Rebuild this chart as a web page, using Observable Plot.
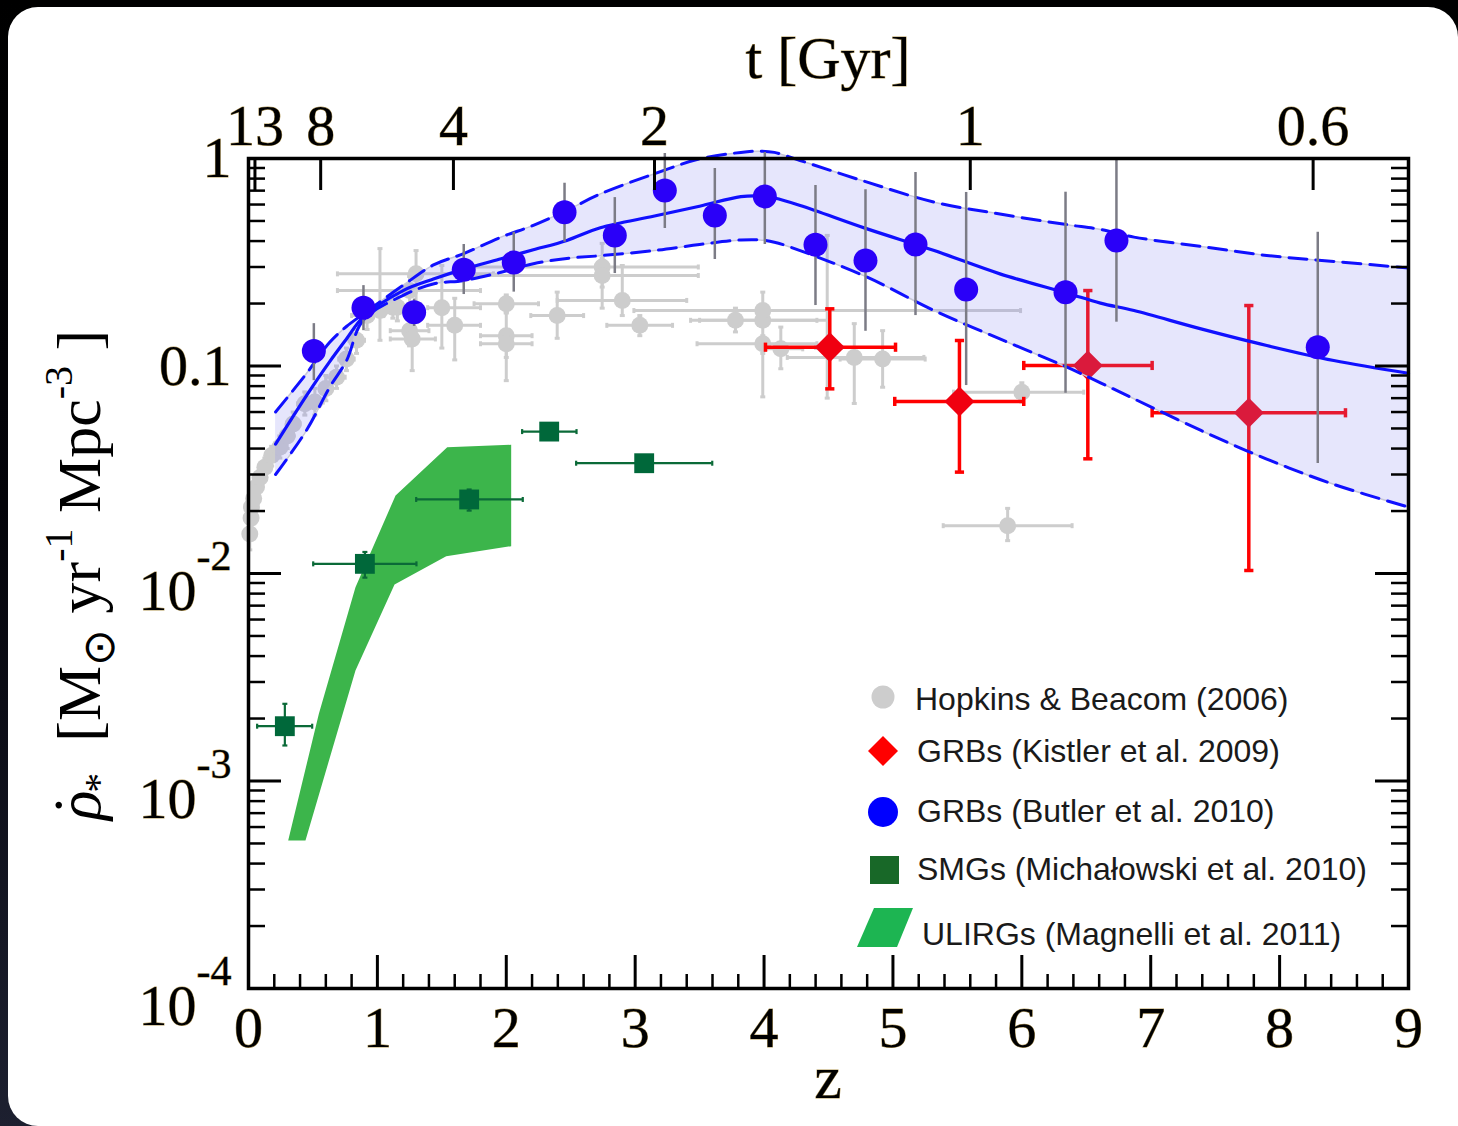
<!DOCTYPE html>
<html><head><meta charset="utf-8">
<script src="https://cdn.jsdelivr.net/npm/d3@7"></script>
<script src="https://cdn.jsdelivr.net/npm/@observablehq/plot@0.6"></script>
<style>
html,body{margin:0;padding:0;width:1458px;height:1126px;overflow:hidden;}
body{background:linear-gradient(to bottom,#000 0%,#04040a 45%,#1d2030 100%);position:relative;}
#card{position:absolute;left:8px;top:7px;width:1450px;height:1119px;background:#fff;border-radius:30px 30px 0 30px;}
#chart{position:absolute;left:0;top:0;}
</style></head>
<body><div id="card"></div><div id="chart"></div>
<script>
// ---------- data ----------
// Hopkins & Beacom (2006) compilation
const hbZ   = [0.01,0.02,0.023,0.04,0.062,0.09,0.127,0.18,0.243,0.30,0.347,0.437,0.515,0.60,0.683,0.76,0.838,0.92,1.02,1.12,1.155,1.25,1.25,1.27,1.30,1.50,1.60,2.0,2.0,2.0,2.395,2.744,2.744,2.90,3.036,3.778,3.99,3.99,3.99,4.13,4.49,4.70,4.92,6.0,5.89];
const hbV   = [0.0155,0.0185,0.0209,0.023,0.0261,0.029,0.0325,0.037,0.0406,0.046,0.0526,0.0657,0.067,0.078,0.0883,0.108,0.133,0.175,0.185,0.192,0.192,0.148,0.231,0.135,0.278,0.191,0.157,0.1995,0.14,0.128,0.175,0.30,0.273,0.207,0.157,0.166,0.166,0.185,0.128,0.121,0.123,0.110,0.108,0.0748,0.017];
const hbZlo = [0.0,0.01,0.01,0.02,0.04,0.07,0.10,0.15,0.20,0.25,0.30,0.38,0.45,0.55,0.60,0.70,0.78,0.80,0.90,1.0,1.05,1.10,0.69,1.10,0.69,1.39,1.39,1.75,1.80,1.80,2.19,1.72,1.75,2.395,2.78,3.43,3.50,2.99,3.48,4.0,4.40,4.18,4.59,5.47,5.39];
const hbZhi = [0.02,0.03,0.04,0.06,0.08,0.11,0.15,0.21,0.29,0.35,0.40,0.50,0.58,0.65,0.75,0.82,0.90,1.05,1.15,1.25,1.30,1.40,1.80,1.45,1.90,1.80,1.80,2.25,2.20,2.20,2.60,3.49,3.49,3.40,3.29,4.41,4.50,5.99,4.41,4.30,4.60,5.24,5.25,6.48,6.39];
const hbVlo = [0.013,0.016,0.018,0.020,0.023,0.026,0.029,0.033,0.036,0.040,0.046,0.058,0.058,0.068,0.078,0.095,0.115,0.15,0.133,0.17,0.165,0.125,0.20,0.095,0.19,0.122,0.107,0.18,0.085,0.11,0.136,0.24,0.19,0.175,0.14,0.146,0.071,0.175,0.115,0.097,0.07,0.066,0.079,0.067,0.0144];
const hbVhi = [0.018,0.021,0.024,0.026,0.029,0.032,0.036,0.041,0.046,0.052,0.060,0.075,0.078,0.09,0.10,0.122,0.15,0.20,0.368,0.22,0.225,0.175,0.27,0.18,0.36,0.305,0.212,0.22,0.182,0.15,0.227,0.39,0.33,0.305,0.175,0.19,0.227,0.195,0.14,0.154,0.426,0.16,0.148,0.083,0.0206];

// GRBs, Kistler et al. 2009
const kiZ   = [4.51,5.516,6.512,7.761];
const kiV   = [0.1232,0.0675,0.1006,0.0595];
const kiZlo = [4.011,5.014,6.015,7.011];
const kiZhi = [5.02,6.015,7.011,8.511];
const kiVlo = [0.0776,0.0308,0.0357,0.01034];
const kiVhi = [0.1886,0.1327,0.231,0.1956];

// GRBs, Butler et al. 2010
const buZ   = [0.507,0.892,1.285,1.670,2.058,2.452,2.842,3.230,3.618,4.006,4.399,4.787,5.175,5.568,6.339,6.734,8.296];
const buV   = [0.118,0.191,0.1817,0.291,0.315,0.551,0.4256,0.701,0.531,0.656,0.384,0.3224,0.385,0.2337,0.2268,0.4026,0.1232];
const buVlo = [0.085,0.148,0.155,0.221,0.227,0.395,0.279,0.460,0.326,0.385,0.1956,0.147,0.175,0.0805,0.0739,0.1626,0.0339];
const buVhi = [0.160,0.244,0.21,0.385,0.441,0.760,0.648,1.057,0.895,1.069,0.741,0.707,0.856,0.686,0.688,1.0,0.441];

// SMGs, Michałowski et al. 2010
const smZ   = [0.282,0.903,1.712,2.333,3.07];
const smV   = [0.001837,0.01113,0.02274,0.0483,0.034];
const smZlo = [0.067,0.502,1.301,2.123,2.542];
const smZhi = [0.494,1.303,2.128,2.545,3.598];
const smVlo = [0.001483,0.00955,0.0201,0.0445,0.0315];
const smVhi = [0.002355,0.0127,0.0254,0.0525,0.0368];

// ULIRGs, Magnelli et al. 2011 (outline of the shaded region)
const ulZ = [0.308,0.546,0.830,1.141,1.542,2.038, 2.038,1.534,1.133,0.830,0.442];
const ulV = [0.000517,0.00211,0.00859,0.02377,0.0406,0.0417, 0.01354,0.01212,0.00885,0.00341,0.000517];

// model band (Butler et al. fit)
const bandZ   = [0.21,0.45,0.63,0.76,0.89,1.2,1.44,1.67,1.96,2.21,2.47,2.73,3.15,3.5,3.82,3.97,4.08,4.28,4.8,5.32,5.83,6.35,6.61,6.87,7.39,7.9,8.42,9.0];
const bandHi  = [0.060,0.092,0.130,0.155,0.178,0.245,0.308,0.348,0.418,0.476,0.562,0.675,0.844,0.996,1.07,1.085,1.07,0.978,0.769,0.616,0.54,0.48,0.455,0.418,0.377,0.341,0.319,0.297];
const bandMid = [0.042,0.072,0.105,0.135,0.172,0.231,0.263,0.293,0.329,0.363,0.403,0.464,0.528,0.589,0.655,0.66,0.645,0.594,0.458,0.36,0.278,0.2244,0.201,0.185,0.151,0.1255,0.1063,0.0923];
const bandLo  = [0.030,0.049,0.079,0.106,0.166,0.219,0.249,0.258,0.283,0.311,0.33,0.34,0.36,0.385,0.405,0.405,0.395,0.36,0.268,0.185,0.135,0.0987,0.083,0.0695,0.0489,0.0356,0.0269,0.0209];

// axes ticks
const xMajor = [0,1,2,3,4,5,6,7,8,9];
const xMinor = d3.range(0,9.001,0.2).filter(v => Math.abs(v - Math.round(v)) > 0.01);
const yMajor = [1e-4,1e-3,1e-2,0.1,1];
const yMajorLabels = ["10^-4","10^-3","10^-2","0.1","1"];
const yMinor = [1e-4,1e-3,1e-2,0.1].flatMap(d => [2,3,4,5,6,7,8,9].map(k => k*d));
const tTickZ = [0.05,0.56,1.59,3.15,5.6,8.26];
const tTickLabels = ["13","8","4","2","1","0.6"];

// ---------- tables ----------
const hb = hbZ.map((z,i)=>({z, v:hbV[i], zlo:hbZlo[i], zhi:hbZhi[i], vlo:hbVlo[i], vhi:hbVhi[i]}));
const ki = kiZ.map((z,i)=>({z, v:kiV[i], zlo:kiZlo[i], zhi:kiZhi[i], vlo:kiVlo[i], vhi:kiVhi[i]}));
const bu = buZ.map((z,i)=>({z, v:buV[i], vlo:buVlo[i], vhi:buVhi[i]}));
const sm = smZ.map((z,i)=>({z, v:smV[i], zlo:smZlo[i], zhi:smZhi[i], vlo:smVlo[i], vhi:smVhi[i]}));
const ul = ulZ.map((z,i)=>({z, v:ulV[i]}));
const band = bandZ.map((z,i)=>({z, lo:bandLo[i], mid:bandMid[i], hi:bandHi[i]}));
const yLab = new Map(yMajor.map((d,i)=>[d, yMajorLabels[i]]));
const tLab = new Map(tTickZ.map((d,i)=>[d, tTickLabels[i]]));

const W=1458, H=1126, mL=248, mR=50, mT=158, mB=138;
const iW = W-mL-mR, iH = H-mT-mB;

const capH = {draw(ctx,size){const r=Math.sqrt(size/Math.PI); ctx.moveTo(-r,0); ctx.lineTo(r,0);}};
const capV = {draw(ctx,size){const r=Math.sqrt(size/Math.PI); ctx.moveTo(0,-r); ctx.lineTo(0,r);}};

const GRAY="#cdcdcd", RED="#ff0000", BLUE="#1010ff", GREEN="#0b6a38";
const serif = "Liberation Serif";

function errMarks(data, color, w, capR, withX=true){
  const m = [
    Plot.ruleX(data,{x:"z", y1:"vlo", y2:"vhi", stroke:color, strokeWidth:w}),
    Plot.dot(data,{x:"z", y:"vlo", symbol:capH, r:capR, stroke:color, strokeWidth:w, fill:"none"}),
    Plot.dot(data,{x:"z", y:"vhi", symbol:capH, r:capR, stroke:color, strokeWidth:w, fill:"none"})
  ];
  if (withX) m.push(
    Plot.ruleY(data,{y:"v", x1:"zlo", x2:"zhi", stroke:color, strokeWidth:w}),
    Plot.dot(data,{x:"zlo", y:"v", symbol:capV, r:capR, stroke:color, strokeWidth:w, fill:"none"}),
    Plot.dot(data,{x:"zhi", y:"v", symbol:capV, r:capR, stroke:color, strokeWidth:w, fill:"none"})
  );
  return m;
}

const plot = Plot.plot({
  width: W, height: H,
  marginLeft: mL, marginRight: mR, marginTop: mT, marginBottom: mB,
  style: {background:"transparent", fontFamily:serif, fontSize:"58px"},
  x: {domain:[0,9]},
  y: {type:"log", domain:[1e-4,1]},
  marks: [
    Plot.line(ul, {x:"z", y:"v", fill:"#3cb54b", stroke:"none"}),
    ...errMarks(sm, GREEN, 2.2, 2.5),
    Plot.dot(sm, {x:"z", y:"v", symbol:"square", r:11.2, fill:"#00683a", stroke:"none"}),
    ...errMarks(hb, GRAY, 3, 2.5),
    Plot.dot(hb, {x:"z", y:"v", r:8.5, fill:GRAY, stroke:"none"}),
    ...errMarks(ki, RED, 3.5, 4.6),
    Plot.dot(ki, {x:"z", y:"v", symbol:"diamond2", r:13.5, fill:"#f00010", stroke:"none"}),
    Plot.areaY(band, {x:"z", y1:"lo", y2:"hi", fill:"#8080f0", fillOpacity:0.2, curve:"catmull-rom"}),
    Plot.line(band, {x:"z", y:"hi", stroke:"#c8c8d8", strokeWidth:1.5, curve:"catmull-rom"}),
    Plot.line(band, {x:"z", y:"lo", stroke:"#c8c8d8", strokeWidth:1.5, curve:"catmull-rom"}),
    Plot.line(band, {x:"z", y:"hi", stroke:BLUE, strokeWidth:3, strokeDasharray:"18,9", curve:"catmull-rom"}),
    Plot.line(band, {x:"z", y:"lo", stroke:BLUE, strokeWidth:3, strokeDasharray:"18,9", curve:"catmull-rom"}),
    Plot.line(band, {x:"z", y:"mid", stroke:BLUE, strokeWidth:3.2, curve:"catmull-rom"}),
    Plot.ruleX(bu, {x:"z", y1:"vlo", y2:"vhi", stroke:"#7c7c86", strokeWidth:2.5}),
    Plot.dot(bu, {x:"z", y:"v", r:12, fill:"#2a00f8", stroke:"none"}),
    Plot.tickX(xMinor, {x:d=>d, insetTop:iH-14, stroke:"#000", strokeWidth:2.5}),
    Plot.tickX(xMajor, {x:d=>d, insetTop:iH-33, stroke:"#000", strokeWidth:3}),
    Plot.tickX(tTickZ, {x:d=>d, insetBottom:iH-32, stroke:"#000", strokeWidth:3}),
    Plot.tickY(yMinor, {y:d=>d, insetRight:iW-17, stroke:"#000", strokeWidth:2.5}),
    Plot.tickY(yMajor, {y:d=>d, insetRight:iW-33, stroke:"#000", strokeWidth:3}),
    Plot.tickY(yMinor, {y:d=>d, insetLeft:iW-17, stroke:"#000", strokeWidth:2.5}),
    Plot.tickY(yMajor, {y:d=>d, insetLeft:iW-33, stroke:"#000", strokeWidth:3}),
    Plot.axisX(xMajor, {anchor:"bottom", tickSize:0, tickPadding:17, tickFormat:d=>String(d), label:null}),
    Plot.axisX(tTickZ, {anchor:"top", tickSize:0, tickPadding:14, tickFormat:d=>tLab.get(d), label:null}),
    Plot.axisY(yMajor, {anchor:"left", tickSize:0, tickPadding:17, tickFormat:d=>yLab.get(d), label:null}),
    Plot.frame({stroke:"#000", strokeWidth:3.5})
  ]
});

document.getElementById("chart").appendChild(plot);
const svg = d3.select(plot);

function gold(sel){ return sel.attr("font-family",serif).attr("fill","#000").attr("stroke","#b49a5a").attr("stroke-width",0.9).attr("paint-order","stroke"); }

gold(svg.selectAll('g[aria-label$="tick label"]')).attr("font-size",58);
gold(svg.selectAll('g[aria-label$="tick label"] text'));
svg.selectAll('g[aria-label="y-axis tick label"] text').each(function(){
  const t = this.textContent;
  if (t.includes("^")) {
    const [b,e] = t.split("^");
    const s = d3.select(this); s.text(null);
    s.append("tspan").attr("dy",18).text(b);
    s.append("tspan").attr("dy",-40).attr("font-size",42).text(e);
  }
});

// axis titles
gold(svg.append("text").attr("x",828).attr("y",78).attr("text-anchor","middle").attr("font-size",60).text("t [Gyr]"));
gold(svg.append("text").attr("x",828).attr("y",1098).attr("text-anchor","middle").attr("font-size",62).text("z"));

const yl = svg.append("text").attr("transform","translate(100,575) rotate(-90)")
  .attr("text-anchor","middle").attr("font-family",serif).attr("font-size",62).attr("fill","#000");
yl.append("tspan").attr("font-style","italic").text("ρ");
yl.append("tspan").attr("dx",-25).attr("dy",-4).text("˙");
yl.append("tspan").attr("font-size",40).attr("dx",2).attr("dy",16).text("*");
yl.append("tspan").attr("dy",-12).text("  [M");
yl.append("tspan").attr("font-size",44).attr("dy",14).text("⊙");
yl.append("tspan").attr("dy",-14).text(" yr");
yl.append("tspan").attr("font-size",40).attr("dy",-28).text("-1");
yl.append("tspan").attr("dy",28).text(" Mpc");
yl.append("tspan").attr("font-size",40).attr("dy",-28).text("-3");
yl.append("tspan").attr("dy",28).text(" ]");

// legend
const sans = "Liberation Sans";
const lg = svg.append("g").attr("font-family",sans).attr("font-size",32).attr("fill","#1a1a1a").attr("text-anchor","start");
lg.append("circle").attr("cx",883).attr("cy",697).attr("r",11.5).attr("fill",GRAY);
lg.append("text").attr("x",915).attr("y",710).text("Hopkins & Beacom (2006)");
lg.append("path").attr("d","M883,736 L898,751 L883,766 L868,751 Z").attr("fill","#ff0000");
lg.append("text").attr("x",917).attr("y",762).text("GRBs (Kistler et al. 2009)");
lg.append("circle").attr("cx",883).attr("cy",812).attr("r",15).attr("fill","#0000ff");
lg.append("text").attr("x",917).attr("y",822).text("GRBs (Butler et al. 2010)");
lg.append("rect").attr("x",870).attr("y",856).attr("width",29).attr("height",28).attr("fill","#186828");
lg.append("text").attr("x",917).attr("y",880).text("SMGs (Michałowski et al. 2010)");
lg.append("path").attr("d","M874,908 L913,908 L897,947 L857,947 Z").attr("fill","#1db552");
lg.append("text").attr("x",922).attr("y",945).text("ULIRGs (Magnelli et al. 2011)");
</script>
</body></html>
